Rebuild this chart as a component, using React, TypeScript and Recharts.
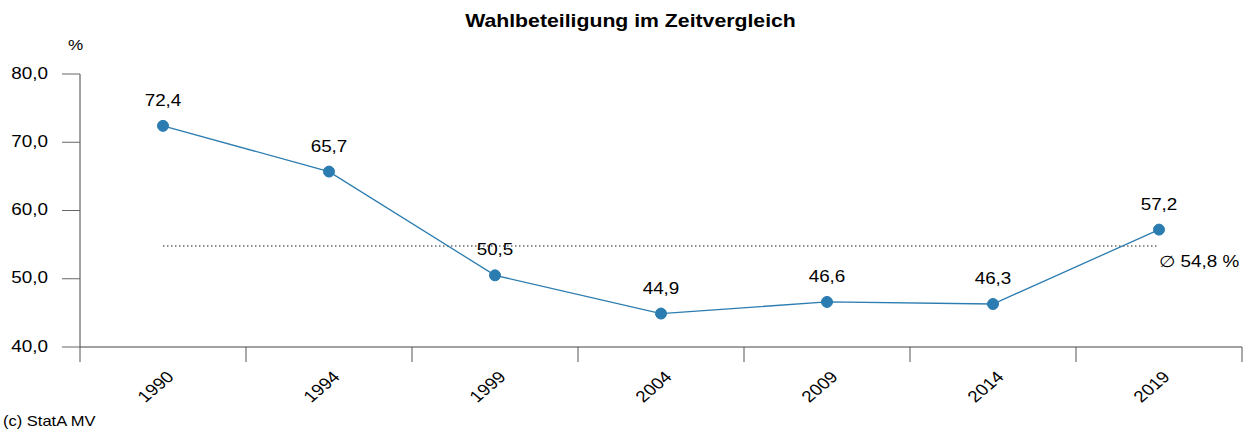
import React from 'react';
import { LineChart, Line, XAxis, YAxis, ReferenceLine, LabelList } from 'recharts';

const years = ['1990', '1994', '1999', '2004', '2009', '2014', '2019'];
const turnout = [72.4, 65.7, 50.5, 44.9, 46.6, 46.3, 57.2];
const average = 54.8;
const yTicks = [40, 50, 60, 70, 80];

const data = years.map((year, i) => ({ year, turnout: turnout[i] }));

const FONT = '"Liberation Sans", Arial, Helvetica, sans-serif';
const SX = 1.18; // the reference text is drawn a little wide
const BLUE = '#2b7cb0';

const fmt = (v: number) => v.toFixed(1).replace('.', ',');

const XTick = (props: any) => {
    const { x, y, payload, index } = props;
    const half = payload.offset ?? 83;
    const last = index === years.length - 1;
    return (
        <g>
            <line x1={x - half} x2={x - half} y1={y} y2={y + 15} stroke="#555" />
            {last && <line x1={x + half} x2={x + half} y1={y} y2={y + 15} stroke="#555" />}
            <text
                transform={`translate(${x + 12},${y + 31}) scale(${SX},1) rotate(-45)`}
                textAnchor="end"
                fontSize={16}
                fontFamily={FONT}
                fill="#000"
            >
                {payload.value}
            </text>
        </g>
    );
};

const YTick = (props: any) => {
    const { x, y, payload } = props;
    return (
        <text
            transform={`translate(${x},${y + 4.5}) scale(${SX},1)`}
            textAnchor="end"
            fontSize={16}
            fontFamily={FONT}
            fill="#000"
        >
            {fmt(payload.value)}
        </text>
    );
};

const PointLabel = (props: any) => {
    const { x, y, value } = props;
    return (
        <text
            transform={`translate(${x},${y - 20}) scale(${SX},1)`}
            textAnchor="middle"
            fontSize={16}
            fontFamily={FONT}
            fill="#000"
        >
            {fmt(value)}
        </text>
    );
};

const AvgLabel = (props: any) => {
    const vb = props.viewBox || {};
    const x = (vb.x ?? 0) + (vb.width ?? 0);
    const y = vb.y ?? 0;
    return (
        <text
            transform={`translate(${x},${y + 21}) scale(${SX},1)`}
            textAnchor="start"
            fontSize={16}
            fontFamily={FONT}
            fill="#000"
        >
            {'\u2205 ' + fmt(average) + ' %'}
        </text>
    );
};

export default function App() {
    return (
        <div style={{ position: 'absolute', left: 0, top: 0, width: 1248, height: 434, background: '#fff' }}>
            <LineChart
                width={1248}
                height={434}
                data={data}
                margin={{ top: 74, right: 6, bottom: 27, left: 0 }}
            >
                <XAxis
                    dataKey="year"
                    scale="band"
                    height={60}
                    axisLine={{ stroke: '#444' }}
                    tickLine={false}
                    tickSize={0}
                    tickMargin={0}
                    tick={<XTick />}
                    interval={0}
                />
                <YAxis
                    width={80}
                    domain={[40, 80]}
                    ticks={yTicks}
                    axisLine={{ stroke: '#444' }}
                    tickLine={{ stroke: '#666' }}
                    tickSize={18}
                    tickMargin={14}
                    tick={<YTick />}
                />
                <ReferenceLine
                    segment={[{ x: years[0], y: average }, { x: years[years.length - 1], y: average }]}
                    stroke="#222"
                    strokeWidth={1.1}
                    strokeDasharray="1.5 2.5"
                    label={AvgLabel}
                />
                <Line
                    type="linear"
                    dataKey="turnout"
                    stroke={BLUE}
                    strokeWidth={1.3}
                    dot={{ r: 5.5, fill: BLUE, stroke: BLUE, strokeWidth: 1 }}
                    activeDot={false}
                    isAnimationActive={false}
                >
                    <LabelList dataKey="turnout" content={PointLabel} />
                </Line>
            </LineChart>
            <svg
                width={1248}
                height={434}
                style={{ position: 'absolute', left: 0, top: 0, pointerEvents: 'none' }}
            >
                <text
                    transform={`translate(630.5,27) scale(${SX},1)`}
                    textAnchor="middle"
                    fontSize={18}
                    fontWeight="bold"
                    fontFamily={FONT}
                >
                    Wahlbeteiligung im Zeitvergleich
                </text>
                <text transform={`translate(75.5,50) scale(${SX},1)`} textAnchor="middle" fontSize={14.5} fontFamily={FONT}>
                    %
                </text>
                <text transform={`translate(3,426) scale(${SX},1)`} textAnchor="start" fontSize={14} fontFamily={FONT}>
                    (c) StatA MV
                </text>
            </svg>
        </div>
    );
}
